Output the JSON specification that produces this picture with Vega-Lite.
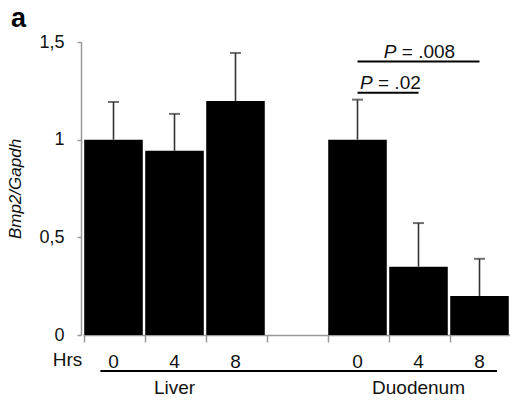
{
  "$schema": "https://vega.github.io/schema/vega-lite/v6.json",
  "width": 427,
  "height": 293,
  "autosize": {"type": "none"},
  "padding": {"left": 83, "top": 42, "right": 0, "bottom": 70},
  "background": "white",
  "config": {
    "view": {"stroke": null},
    "font": "Liberation Sans",
    "axis": {"grid": false},
    "title": {"font": "Liberation Sans"},
    "locale": {"number": {"decimal": ",", "thousands": ".", "grouping": [3], "currency": ["", " €"]}}
  },
  "title": {
    "text": "a",
    "anchor": "start",
    "frame": "group",
    "fontSize": 27,
    "fontWeight": "bold",
    "color": "#000",
    "dx": -72,
    "dy": 16,
    "offset": 16
  },
  "datasets": {
    "bars": [
      {"cat": "L0", "mean": 1.0, "upper": 1.193},
      {"cat": "L4", "mean": 0.943, "upper": 1.132},
      {"cat": "L8", "mean": 1.198, "upper": 1.444},
      {"cat": "D0", "mean": 1.0, "upper": 1.205},
      {"cat": "D4", "mean": 0.35, "upper": 0.573},
      {"cat": "D8", "mean": 0.2, "upper": 0.39}
    ],
    "sig": [
      {"id": 1, "from": "D0", "to": "D4", "mid": "D0", "y": 1.24, "p": "P", "rest": "= .02"},
      {"id": 2, "from": "D0", "to": "D8", "mid": "D4", "y": 1.40, "p": "P", "rest": "= .008"}
    ],
    "under": [
      {"from": "L0", "to": "D8", "y": -0.184}
    ],
    "groups": [
      {"at": "L4", "label": "Liver", "y": -0.304},
      {"at": "D4", "label": "Duodenum", "y": -0.304}
    ]
  },
  "layer": [
    {
      "data": {"name": "bars"},
      "mark": {"type": "bar", "color": "#000"},
      "encoding": {
        "x": {
          "field": "cat",
          "type": "nominal",
          "sort": null,
          "scale": {
            "domain": ["L0", "L4", "L8", "gap", "D0", "D4", "D8"],
            "paddingInner": 0.04,
            "paddingOuter": 0.02
          },
          "axis": {
            "title": "Hrs",
            "bandPosition": 0,
            "labelExpr": "datum.value == 'gap' ? '' : slice(datum.value, 1)",
            "labelAngle": 0,
            "domainColor": "#999",
            "domainWidth": 1.5,
            "tickColor": "#999",
            "tickWidth": 1.5,
            "tickSize": 7,
            "labelFontSize": 19,
            "labelBaseline": "alphabetic",
            "labelPadding": 25,
            "labelColor": "#111",
            "titleFontSize": 19,
            "titleFontWeight": "normal",
            "titleColor": "#111",
            "titleX": -16,
            "titleY": 30,
            "titleAlign": "center",
            "titleBaseline": "alphabetic"
          }
        },
        "y": {
          "field": "mean",
          "type": "quantitative",
          "scale": {"domain": [0, 1.5], "nice": false},
          "axis": {
            "title": "Bmp2/Gapdh",
            "values": [0, 0.5, 1, 1.5],
            "format": "~g",
            "offset": 2,
            "domainColor": "#999",
            "domainWidth": 1.5,
            "tickColor": "#999",
            "tickWidth": 1.5,
            "tickSize": 4,
            "labelFontSize": 18,
            "labelPadding": 13,
            "labelColor": "#111",
            "titleFontSize": 17,
            "titleFontStyle": "italic",
            "titleFontWeight": "normal",
            "titleColor": "#111",
            "titlePadding": 14
          }
        }
      }
    },
    {
      "data": {"name": "bars"},
      "mark": {"type": "rule", "color": "#333", "strokeWidth": 1.6},
      "encoding": {
        "x": {"field": "cat", "type": "nominal", "sort": null},
        "y": {"field": "mean", "type": "quantitative"},
        "y2": {"field": "upper"}
      }
    },
    {
      "data": {"name": "bars"},
      "mark": {"type": "tick", "color": "#333", "thickness": 2, "size": 11},
      "encoding": {
        "x": {"field": "cat", "type": "nominal", "sort": null},
        "y": {"field": "upper", "type": "quantitative"}
      }
    },
    {
      "data": {"name": "sig"},
      "mark": {"type": "rule", "color": "#000", "strokeWidth": 2},
      "encoding": {
        "x": {"field": "from", "type": "nominal", "sort": null},
        "x2": {"field": "to"},
        "y": {"field": "y", "type": "quantitative"}
      }
    },
    {
      "data": {"name": "sig"},
      "transform": [{"filter": "datum.id == 1"}],
      "layer": [
        {
          "mark": {"type": "text", "align": "left", "baseline": "alphabetic", "fontSize": 19, "fontStyle": "italic", "color": "#111", "dx": 2.5, "dy": -4},
          "encoding": {
            "x": {"field": "mid", "type": "nominal", "sort": null},
            "y": {"field": "y", "type": "quantitative"},
            "text": {"field": "p"}
          }
        },
        {
          "mark": {"type": "text", "align": "left", "baseline": "alphabetic", "fontSize": 19, "color": "#111", "dx": 20.5, "dy": -4},
          "encoding": {
            "x": {"field": "mid", "type": "nominal", "sort": null},
            "y": {"field": "y", "type": "quantitative"},
            "text": {"field": "rest"}
          }
        }
      ]
    },
    {
      "data": {"name": "sig"},
      "transform": [{"filter": "datum.id == 2"}],
      "layer": [
        {
          "mark": {"type": "text", "align": "left", "baseline": "alphabetic", "fontSize": 19, "fontStyle": "italic", "color": "#111", "dx": -34.7, "dy": -4},
          "encoding": {
            "x": {"field": "mid", "type": "nominal", "sort": null},
            "y": {"field": "y", "type": "quantitative"},
            "text": {"field": "p"}
          }
        },
        {
          "mark": {"type": "text", "align": "left", "baseline": "alphabetic", "fontSize": 19, "color": "#111", "dx": -16.7, "dy": -4},
          "encoding": {
            "x": {"field": "mid", "type": "nominal", "sort": null},
            "y": {"field": "y", "type": "quantitative"},
            "text": {"field": "rest"}
          }
        }
      ]
    },
    {
      "data": {"name": "under"},
      "mark": {"type": "rule", "color": "#000", "strokeWidth": 2},
      "encoding": {
        "x": {"field": "from", "type": "nominal", "sort": null, "bandPosition": 0.276},
        "x2": {"field": "to", "bandPosition": 0.8},
        "y": {"field": "y", "type": "quantitative"}
      }
    },
    {
      "data": {"name": "groups"},
      "mark": {"type": "text", "align": "center", "baseline": "alphabetic", "fontSize": 19, "color": "#111"},
      "encoding": {
        "x": {"field": "at", "type": "nominal", "sort": null},
        "y": {"field": "y", "type": "quantitative"},
        "text": {"field": "label"}
      }
    }
  ]
}
